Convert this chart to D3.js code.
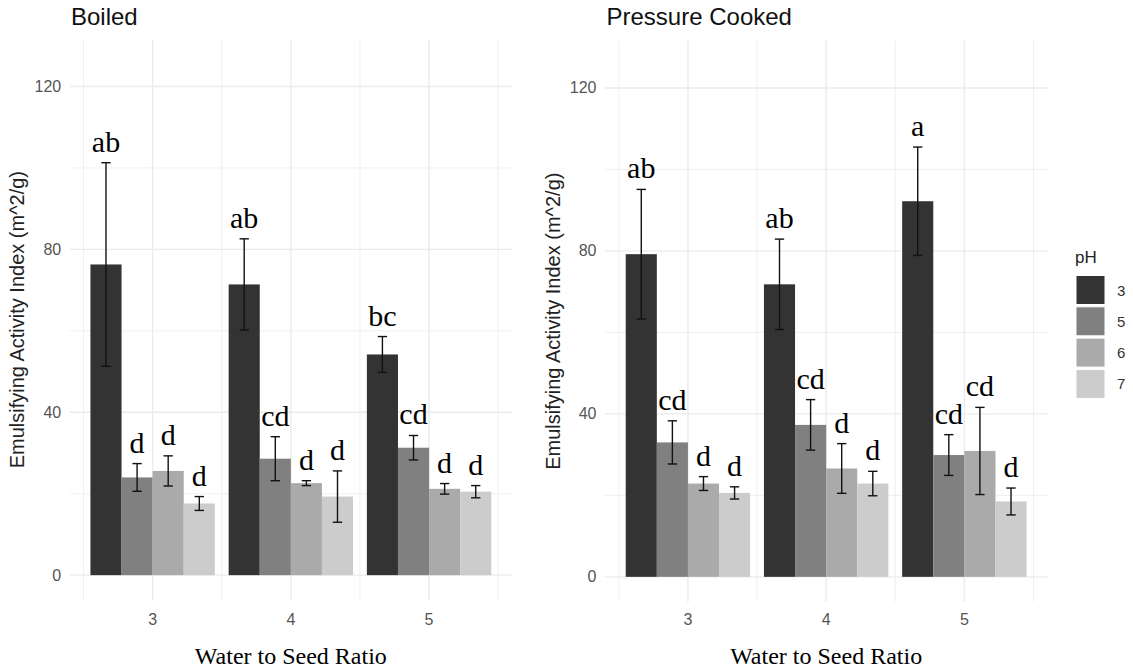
<!DOCTYPE html>
<html>
<head>
<meta charset="utf-8">
<script src="https://cdn.jsdelivr.net/npm/d3@7"></script>
<style>
  body { margin: 0; background: #fff; }
  svg { display: block; }
</style>
</head>
<body>
<svg id="chart" width="1133" height="670"></svg>
<script>
// data
var ratios = ["3", "4", "5"];
var phLevels = ["3", "5", "6", "7"];
var phColors = ["#333333", "#808080", "#aaaaaa", "#cccccc"];
var yTicks = [0, 40, 80, 120];
var yMinor = [20, 60, 100];

var boiledMeans = [[76.3, 24.0, 25.6, 17.6], [71.4, 28.6, 22.6, 19.3], [54.2, 31.3, 21.2, 20.5]];
var boiledSd = [[25.0, 3.4, 3.7, 1.7], [11.2, 5.4, 0.6, 6.3], [4.4, 3.0, 1.3, 1.5]];
var boiledLetters = [["ab", "d", "d", "d"], ["ab", "cd", "d", "d"], ["bc", "cd", "d", "d"]];

var pressureMeans = [[79.2, 33.0, 22.9, 20.6], [71.8, 37.3, 26.6, 22.9], [92.2, 29.9, 30.9, 18.5]];
var pressureSd = [[15.9, 5.3, 1.7, 1.5], [11.1, 6.2, 6.1, 3.0], [13.3, 5.0, 10.7, 3.3]];
var pressureLetters = [["ab", "cd", "d", "d"], ["ab", "cd", "d", "d"], ["a", "cd", "cd", "d"]];

var SANS = "'Liberation Sans', Arial, sans-serif",
    SERIF = "'Liberation Serif', 'Times New Roman', serif";

var svg = d3.select("#chart");

var panels = [
    { title: "Boiled", means: boiledMeans, sds: boiledSd, letters: boiledLetters,
      left: 69.7, right: 512, bottom: 600, top: 39.3, titleX: 71 },
    { title: "Pressure Cooked", means: pressureMeans, sds: pressureSd, letters: pressureLetters,
      left: 605, right: 1047.3, bottom: 601.7, top: 40.7, titleX: 606.5 }
];

panels.forEach(function (p) {
    var g = svg.append("g");

    var x = d3.scalePoint().domain(ratios).range([p.left, p.right]).padding(0.6),
        step = x.step(),
        inner = d3.scaleBand().domain(phLevels).range([-0.45 * step, 0.45 * step]),
        y = d3.scaleLinear().domain([-6.1, 131.6]).range([p.bottom, p.top]);

    // grid
    var grid = g.append("g").attr("stroke", "#ebebeb").attr("fill", "none");
    yMinor.forEach(function (v) {
        grid.append("line").attr("x1", p.left).attr("x2", p.right)
            .attr("y1", y(v)).attr("y2", y(v)).attr("stroke-width", 0.8);
    });
    [0, 1, 2, 3].forEach(function (i) {
        var xv = x(ratios[0]) + (i - 0.5) * step;
        grid.append("line").attr("x1", xv).attr("x2", xv)
            .attr("y1", p.top).attr("y2", p.bottom).attr("stroke-width", 0.8);
    });
    yTicks.forEach(function (v) {
        grid.append("line").attr("x1", p.left).attr("x2", p.right)
            .attr("y1", y(v)).attr("y2", y(v)).attr("stroke-width", 1.4);
    });
    ratios.forEach(function (r) {
        grid.append("line").attr("x1", x(r)).attr("x2", x(r))
            .attr("y1", p.top).attr("y2", p.bottom).attr("stroke-width", 1.4);
    });

    // flatten rows
    var rows = [];
    ratios.forEach(function (r, i) {
        phLevels.forEach(function (ph, j) {
            rows.push({ ratio: r, ph: ph, color: phColors[j],
                        mean: p.means[i][j], sd: p.sds[i][j], letter: p.letters[i][j] });
        });
    });

    function cx(d) { return x(d.ratio) + inner(d.ph) + inner.bandwidth() / 2; }

    g.append("g").selectAll("rect")
        .data(rows)
        .enter()
        .append("rect")
        .attr("x", function (d) { return x(d.ratio) + inner(d.ph); })
        .attr("width", inner.bandwidth())
        .attr("y", function (d) { return y(d.mean); })
        .attr("height", function (d) { return y(0) - y(d.mean); })
        .attr("fill", function (d) { return d.color; });

    var cap = inner.bandwidth() * 0.15;
    var eb = g.append("g").attr("stroke", "#111").attr("stroke-width", 1.4).attr("fill", "none");
    rows.forEach(function (d) {
        var hi = y(d.mean + d.sd), lo = y(d.mean - d.sd);
        eb.append("line").attr("x1", cx(d)).attr("x2", cx(d)).attr("y1", hi).attr("y2", lo);
        eb.append("line").attr("x1", cx(d) - cap).attr("x2", cx(d) + cap).attr("y1", hi).attr("y2", hi);
        eb.append("line").attr("x1", cx(d) - cap).attr("x2", cx(d) + cap).attr("y1", lo).attr("y2", lo);
    });

    // significance letters
    g.append("g").selectAll("text")
        .data(rows)
        .enter()
        .append("text")
        .attr("x", cx)
        .attr("y", function (d) { return y(d.mean + d.sd) - 11; })
        .attr("font-family", SERIF).attr("font-size", 30)
        .attr("text-anchor", "middle").attr("fill", "#000")
        .text(function (d) { return d.letter; });

    // y tick labels
    g.append("g").selectAll("text")
        .data(yTicks)
        .enter()
        .append("text")
        .attr("x", p.left - 8.5)
        .attr("y", function (v) { return y(v) + 5.5; })
        .attr("font-family", SANS).attr("font-size", 16)
        .attr("fill", "#555").attr("text-anchor", "end")
        .text(function (v) { return v; });

    // x tick labels
    g.append("g").selectAll("text")
        .data(ratios)
        .enter()
        .append("text")
        .attr("x", function (r) { return x(r); })
        .attr("y", 625)
        .attr("font-family", SANS).attr("font-size", 16)
        .attr("fill", "#555").attr("text-anchor", "middle")
        .text(function (r) { return r; });

    // titles
    g.append("text")
        .attr("x", p.titleX).attr("y", 24.5)
        .attr("font-family", SANS).attr("font-size", 24).attr("fill", "#111")
        .text(p.title);

    g.append("text")
        .attr("x", (p.left + p.right) / 2).attr("y", 664)
        .attr("font-family", SERIF).attr("font-size", 24).attr("fill", "#000")
        .attr("text-anchor", "middle")
        .text("Water to Seed Ratio");

    g.append("text")
        .attr("transform", "translate(" + (p.left - 45.5) + "," + ((p.top + p.bottom) / 2) + ") rotate(-90)")
        .attr("font-family", SANS).attr("font-size", 20).attr("fill", "#222")
        .attr("text-anchor", "middle")
        .text("Emulsifying Activity Index (m^2/g)");
});

// legend
var legend = svg.append("g").attr("transform", "translate(1075,0)");
legend.append("text")
    .attr("x", 0).attr("y", 263)
    .attr("font-family", SANS).attr("font-size", 17).attr("fill", "#222")
    .text("pH");

var keys = legend.selectAll("g.key")
    .data(phLevels)
    .enter()
    .append("g")
    .attr("class", "key")
    .attr("transform", function (d, i) { return "translate(0," + (275 + i * 31.3) + ")"; });

keys.append("rect")
    .attr("x", 1).attr("y", 0.5)
    .attr("width", 29).attr("height", 29)
    .attr("fill", function (d, i) { return phColors[i]; })
    .attr("stroke", "#fff").attr("stroke-width", 1);

keys.append("text")
    .attr("x", 42).attr("y", 20.5)
    .attr("font-family", SANS).attr("font-size", 15).attr("fill", "#333")
    .text(function (d) { return d; });
</script>
</body>
</html>
